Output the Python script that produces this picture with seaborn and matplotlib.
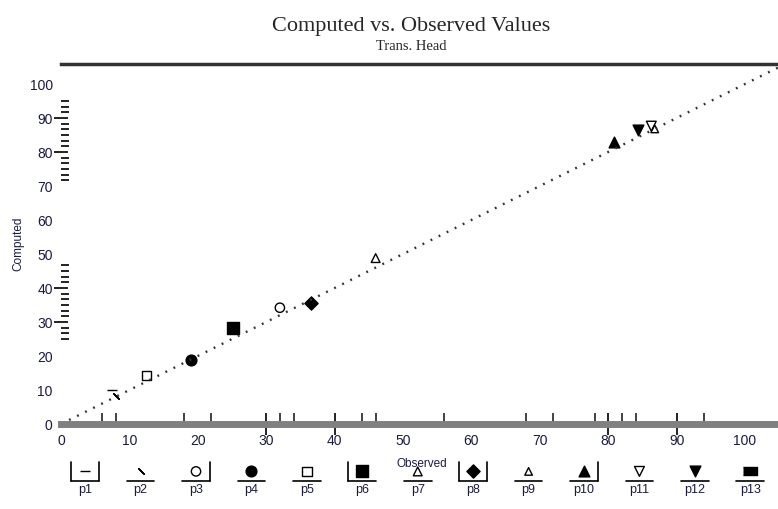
import matplotlib
matplotlib.use("Agg")
import matplotlib.pyplot as plt
import seaborn as sns
import pandas as pd

# ---------------- data ----------------
series_names = ["p1", "p2", "p3", "p4", "p5", "p6", "p7", "p8", "p9", "p10", "p11", "p12", "p13"]
observed = [[7.5], [8.0], [32.0], [19.0], [12.5], [25.1], [46.0], [36.5], [86.8], [80.8], [86.3], [84.4], []]
computed = [[10.0], [8.2], [34.2], [18.8], [14.2], [28.3], [48.8], [35.6], [86.8], [83.0], [87.6], [86.4], []]
identity = [0, 105]

x_labels = [0, 10, 20, 30, 40, 50, 60, 70, 80, 90, 100]
y_labels = [0, 10, 20, 30, 40, 50, 60, 70, 80, 90, 100]
x_rug = [6, 8, 18, 22, 32, 34, 44, 46, 56, 68, 72, 78, 82, 84, 94]
x_long = [30, 40, 80, 90]
y_rug = [25, 26.7, 28.3, 31.7, 33.3, 35, 36.7, 38.3, 41.7, 43.3, 45, 46.7,
         71.7, 73.3, 75, 76.7, 78.3, 81.7, 83.3, 85, 86.7, 88.3, 91.7, 93.3, 95]
y_long = [30, 40, 80, 90]

# ---------------- styles ----------------
rect = [(-1.8, -1), (1.8, -1), (1.8, 1), (-1.8, 1)]
markers = ["_", (2, 2, 45), "o", "o", "s", "s", "^", "D", "^", "^", "v", "v", rect]
# 'line' markers have no face, so they are drawn in solid black
filled = [True, True, False, True, False, True, False, True, False, True, False, True, True]
sizes = [50, 30, 45, 60, 45, 70, 40, 45, 30, 60, 50, 60, 110]
sides = [(True, True), (False, False), (False, True), (False, False), (False, False),
         (True, False), (False, False), (True, True), (False, False), (False, True),
         (False, False), (False, False), (False, False)]

sns.set_theme(style="white")
plt.rcParams["font.family"] = ["Liberation Sans", "DejaVu Sans"]

fig = plt.figure(figsize=(7.78, 5.09), dpi=100)
W, H = 778, 509
ax = fig.add_axes([61 / W, (H - 424) / H, (W - 61) / W, (424 - 64) / H])

# identity line
sns.lineplot(x=identity, y=identity, ax=ax, color="#333333", lw=1.7,
             linestyle=(0, (0.8, 3.0)), legend=False)

# points
for name, xs, ys, m, f, s in zip(series_names, observed, computed, markers, filled, sizes):
    if not xs:
        continue
    df = pd.DataFrame({"Observed": xs, "Computed": ys})
    sns.scatterplot(data=df, x="Observed", y="Computed", ax=ax, marker=m, s=s,
                    color="black", edgecolor="black", linewidth=1.0, legend=False)
    coll = ax.collections[-1]
    if not f:
        coll.set_facecolor("none")
        coll.set_edgecolor("black")

ax.set_xlim(0, (W - 61) / 6.84)
ax.set_ylim(0, (424 - 64) / 3.4)

for sp in ["left", "right"]:
    ax.spines[sp].set_visible(False)
ax.spines["bottom"].set_color("#808080")
ax.spines["bottom"].set_linewidth(5)
ax.spines["top"].set_color("#333333")
ax.spines["top"].set_linewidth(2.5)

tick_col = "#1a1a40"
ax.set_xticks(x_labels)
ax.set_xticklabels([str(v) for v in x_labels], fontsize=10, color=tick_col)
ax.set_yticks(y_labels)
ax.set_yticklabels([str(v) for v in y_labels], fontsize=10, color=tick_col)
ax.tick_params(axis="x", which="major", length=0, pad=7)
ax.tick_params(axis="y", which="major", length=0, pad=6)
ax.set_xticks(x_rug, minor=True)
ax.set_yticks(y_rug, minor=True)
ax.tick_params(axis="x", which="minor", direction="in", length=8, width=1.2, color="#222222", bottom=True)
ax.tick_params(axis="y", which="minor", direction="in", length=6, width=1.4, color="#222222", left=True)

ax.vlines(x_long, -0.03, 0.03, transform=ax.get_xaxis_transform(), color="#222222", lw=1.4, clip_on=False)
ax.hlines(y_long, -0.01, 0.01, transform=ax.get_yaxis_transform(), color="#222222", lw=1.4, clip_on=False)

ax.set_xlabel("Observed", fontsize=8.5, color=tick_col)
ax.set_ylabel("Computed", fontsize=8.5, color=tick_col)
ax.xaxis.set_label_coords((422 - 61) / (W - 61), -0.095)
ax.yaxis.set_label_coords(-(61 - 24) / (W - 61), 0.5)

fig.text(411 / W, 1 - 27 / H, "Computed vs. Observed Values", ha="center", va="center",
         fontsize=16, family=["Liberation Serif", "DejaVu Serif"])
fig.text(411 / W, 1 - 46 / H, "Trans. Head", ha="center", va="center",
         fontsize=10.5, family=["Liberation Serif", "DejaVu Serif"])

# legend row
lax = fig.add_axes([58 / W, 8 / H, (W - 58) / W, 40 / H])
lax.set_xlim(-0.49, 12.5)
lax.set_ylim(0, 1)
lax.axis("off")
for i, (name, m, f, s, sd) in enumerate(zip(series_names, markers, filled, sizes, sides)):
    lax.scatter([i], [0.74], marker=m, s=s, facecolor="black" if f else "none",
                edgecolor="black", linewidth=1.0, clip_on=False)
    lax.plot([i - 0.25, i + 0.25], [0.5, 0.5], color="black", lw=1.2)
    if sd[0]:
        lax.plot([i - 0.25, i - 0.25], [0.5, 0.98], color="black", lw=1.2)
    if sd[1]:
        lax.plot([i + 0.25, i + 0.25], [0.5, 0.98], color="black", lw=1.2)
    lax.text(i, 0.28, name, ha="center", va="center", fontsize=9, color=tick_col)

fig.savefig("out.png", dpi=100)
